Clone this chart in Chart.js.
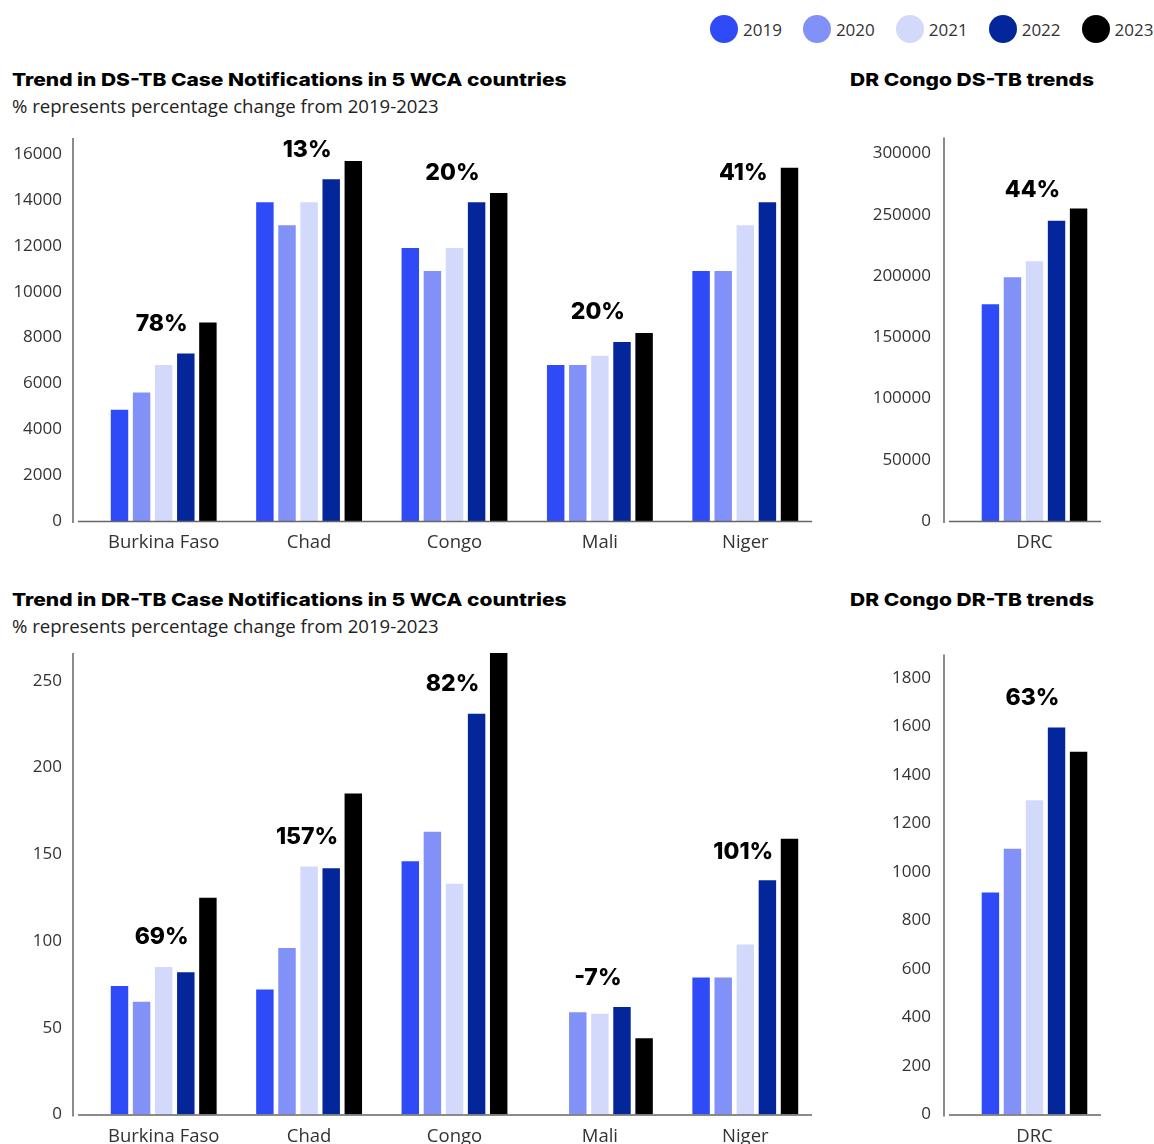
<!DOCTYPE html>
<html>
<head>
<meta charset="utf-8">
<script src="https://cdn.jsdelivr.net/npm/chart.js@4"></script>
<style>
  body { margin: 0; background: #fff; width: 1154px; height: 1144px; position: relative; overflow: hidden; font-family: "Open Sans", sans-serif; }
  .title { position: absolute; font-family: Inter, sans-serif; font-weight: 800; font-size: 18px; line-height: 22px; color: #000; white-space: nowrap; transform: scaleX(1.165); transform-origin: left center; }
  .sub { position: absolute; font-size: 18.6px; line-height: 22px; color: #222; white-space: nowrap; }
  canvas { position: absolute; }
  #legend { position: absolute; left: 710px; top: 15px; display: flex; gap: 21px; }
  .item { display: flex; align-items: center; font-size: 17px; color: #333; }
  .dot { width: 28px; height: 28px; border-radius: 50%; margin-right: 5px; }
</style>
</head>
<body>
<div id="legend"></div>

<div class="title" style="left:12px; top:69px;">Trend in DS-TB Case Notifications in 5 WCA countries</div>
<div class="sub" style="left:12px; top:95px;">% represents percentage change from 2019-2023</div>
<div class="title" style="left:850px; top:69px;">DR Congo DS-TB trends</div>

<div class="title" style="left:12px; top:589px;">Trend in DR-TB Case Notifications in 5 WCA countries</div>
<div class="sub" style="left:12px; top:615px;">% represents percentage change from 2019-2023</div>
<div class="title" style="left:850px; top:589px;">DR Congo DR-TB trends</div>

<canvas id="dsChart" width="840" height="435" style="left:0; top:125px;"></canvas>
<canvas id="drcDsChart" width="294" height="435" style="left:860px; top:125px;"></canvas>
<canvas id="drChart" width="840" height="504" style="left:0; top:640px;"></canvas>
<canvas id="drcDrChart" width="294" height="504" style="left:860px; top:640px;"></canvas>

<script>
// Years and their colours
const years = ['2019', '2020', '2021', '2022', '2023'];
const yearColors = ['#2f4bf7', '#8291f7', '#d3d9fb', '#03279b', '#000000'];

// DS-TB notifications, 5 WCA countries
const countries = ['Burkina Faso', 'Chad', 'Congo', 'Mali', 'Niger'];
const dsTb2019 = [4850, 13900, 11900, 6800, 10900];
const dsTb2020 = [5600, 12900, 10900, 6800, 10900];
const dsTb2021 = [6800, 13900, 11900, 7200, 12900];
const dsTb2022 = [7300, 14900, 13900, 7800, 13900];
const dsTb2023 = [8650, 15700, 14300, 8200, 15400];
const dsTbChange = ['78%', '13%', '20%', '20%', '41%'];

// DR-TB notifications, 5 WCA countries (no 2019 figure for Mali)
const drTb2019 = [74, 72, 146, null, 79];
const drTb2020 = [65, 96, 163, 59, 79];
const drTb2021 = [85, 143, 133, 58, 98];
const drTb2022 = [82, 142, 231, 62, 135];
const drTb2023 = [125, 185, 266, 44, 159];
const drTbChange = ['69%', '157%', '82%', '-7%', '101%'];

// DR Congo, one value per year 2019-2023
const drcCategory = ['DRC'];
const drcDsTb = [177000, 199000, 212000, 245000, 255000];
const drcDsTbChange = ['44%'];
const drcDrTb = [915, 1095, 1295, 1595, 1495];
const drcDrTbChange = ['63%'];

// Y tick labels
const dsTicks = [0, 2000, 4000, 6000, 8000, 10000, 12000, 14000, 16000];
const drTicks = [0, 50, 100, 150, 200, 250];
const drcDsTicks = [0, 50000, 100000, 150000, 200000, 250000, 300000];
const drcDrTicks = [0, 200, 400, 600, 800, 1000, 1200, 1400, 1600, 1800];

// Legend
const legendEl = document.getElementById('legend');
years.forEach((y, i) => {
    const item = document.createElement('div');
    item.className = 'item';
    item.innerHTML = `<span class="dot" style="background:${yearColors[i]}"></span>${y}`;
    legendEl.appendChild(item);
});

Chart.defaults.font.family = '"Open Sans", sans-serif';
Chart.defaults.font.size = 17;
Chart.defaults.color = '#333';

// y axis line sits a little left of the bars, baseline stops short of the edges
const axisLines = {
    id: 'axisLines',
    afterDatasetsDraw(chart) {
        const { ctx, chartArea: a } = chart;
        ctx.save();
        ctx.strokeStyle = '#666';
        ctx.lineWidth = 1.5;
        ctx.beginPath();
        ctx.moveTo(a.left - 18, a.top);
        ctx.lineTo(a.left - 18, a.bottom + 2);
        ctx.moveTo(a.left - 13, a.bottom + 0.5);
        ctx.lineTo(a.right - 6, a.bottom + 0.5);
        ctx.stroke();
        ctx.restore();
    }
};

// % change text over each group
const changeLabels = {
    id: 'changeLabels',
    afterDatasetsDraw(chart, args, opts) {
        const { ctx } = chart;
        const xs = chart.scales.x, ys = chart.scales.y;
        ctx.save();
        ctx.font = '800 23px Inter, sans-serif';
        ctx.fillStyle = '#000';
        ctx.textAlign = 'center';
        ctx.textBaseline = 'middle';
        opts.texts.forEach((t, i) => {
            ctx.fillText(t, xs.getPixelForValue(i) - 2, ys.getPixelForValue(opts.at[i]));
        });
        ctx.restore();
    }
};

function buildDatasets(values) {
    return years.map((y, i) => ({
        label: y,
        data: values[i],
        backgroundColor: yearColors[i],
        borderWidth: 0,
        categoryPercentage: 0.76,
        barPercentage: 0.79
    }));
}

function makeChart(id, labels, values, opts) {
    return new Chart(document.getElementById(id), {
        type: 'bar',
        data: { labels: labels, datasets: buildDatasets(values) },
        plugins: [axisLines, changeLabels],
        options: {
            responsive: false,
            devicePixelRatio: 1,
            animation: false,
            layout: { padding: { top: opts.top, right: opts.right, left: 0, bottom: 0 } },
            plugins: {
                legend: { display: false },
                tooltip: { enabled: false },
                changeLabels: { texts: opts.texts, at: opts.at }
            },
            scales: {
                x: {
                    // tick marks are hidden but their length spaces the labels
                    grid: { display: false, drawTicks: true, tickLength: 11 },
                    border: { display: false },
                    ticks: { padding: 0, color: '#333', font: { size: 18.5 } },
                    afterFit: s => { s.height = opts.xHeight; }
                },
                y: {
                    min: 0,
                    max: opts.max,
                    grid: { display: false, drawTicks: true, tickLength: opts.tickGap },
                    border: { display: false },
                    ticks: { padding: 0, color: '#333', callback: v => String(v) },
                    afterBuildTicks: s => { s.ticks = opts.ticks.map(v => ({ value: v })); },
                    afterFit: s => { s.width = opts.yWidth; }
                }
            }
        }
    });
}

makeChart('dsChart', countries, [dsTb2019, dsTb2020, dsTb2021, dsTb2022, dsTb2023], {
    max: 16700, ticks: dsTicks, top: 13, right: 22, xHeight: 39, yWidth: 91, tickGap: 29,
    texts: dsTbChange, at: [8600, 16175, 15170, 9100, 15170]
});

makeChart('drcDsChart', drcCategory, drcDsTb.map(v => [v]), {
    max: 313000, ticks: drcDsTicks, top: 12.5, right: 47, xHeight: 39, yWidth: 102, tickGap: 31,
    texts: drcDsTbChange, at: [270000]
});

makeChart('drChart', countries, [drTb2019, drTb2020, drTb2021, drTb2022, drTb2023], {
    max: 266, ticks: drTicks, top: 13, right: 22, xHeight: 29.5, yWidth: 91, tickGap: 29,
    texts: drTbChange, at: [102, 160, 248, 78.5, 151]
});

makeChart('drcDrChart', drcCategory, drcDrTb.map(v => [v]), {
    max: 1896, ticks: drcDrTicks, top: 14.5, right: 47, xHeight: 29.5, yWidth: 102, tickGap: 31,
    texts: drcDrTbChange, at: [1717]
});
</script>
</body>
</html>
